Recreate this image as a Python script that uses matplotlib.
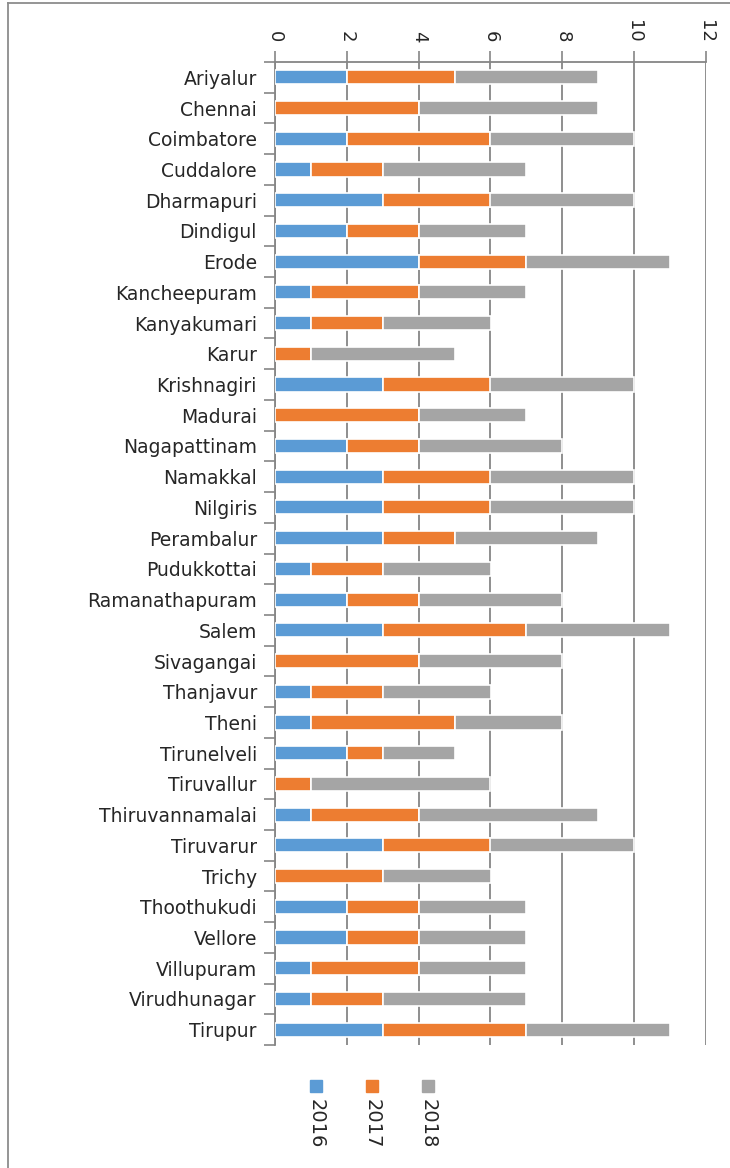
import matplotlib
matplotlib.use("Agg")
import matplotlib.pyplot as plt
from matplotlib.patches import Rectangle
from matplotlib.lines import Line2D
import numpy as np

# district-wise counts, stacked by year
districts = ["Ariyalur", "Chennai", "Coimbatore", "Cuddalore", "Dharmapuri",
             "Dindigul", "Erode", "Kancheepuram", "Kanyakumari", "Karur",
             "Krishnagiri", "Madurai", "Nagapattinam", "Namakkal", "Nilgiris",
             "Perambalur", "Pudukkottai", "Ramanathapuram", "Salem",
             "Sivagangai", "Thanjavur", "Theni", "Tirunelveli", "Tiruvallur",
             "Thiruvannamalai", "Tiruvarur", "Trichy", "Thoothukudi",
             "Vellore", "Villupuram", "Virudhunagar", "Tirupur"]
y2016 = [2, 0, 2, 1, 3, 2, 4, 1, 1, 0, 3, 0, 2, 3, 3, 3, 1, 2, 3, 0,
         1, 1, 2, 0, 1, 3, 0, 2, 2, 1, 1, 3]
y2017 = [3, 4, 4, 2, 3, 2, 3, 3, 2, 1, 3, 4, 2, 3, 3, 2, 2, 2, 4, 4,
         2, 4, 1, 1, 3, 3, 3, 2, 2, 3, 2, 4]
y2018 = [4, 5, 4, 4, 4, 3, 4, 3, 3, 4, 4, 3, 4, 4, 4, 4, 3, 4, 4, 4,
         3, 3, 2, 5, 5, 4, 3, 3, 3, 3, 4, 4]
years = ["2016", "2017", "2018"]
colors = ["#5B9BD5", "#ED7D31", "#A5A5A5"]

plt.rcParams['font.family'] = ['DejaVu Sans']

W, H = 730, 1168
fig = plt.figure(figsize=(W / 100, H / 100), dpi=100)
ax = fig.add_axes([275 / W, 1 - 1045 / H, (706 - 275) / W, (1045 - 62) / H])

pos = np.arange(len(districts))
left = np.zeros(len(districts))
for vals, col, lab in zip([y2016, y2017, y2018], colors, years):
    ax.barh(pos, vals, left=left, height=0.46, color=col,
            edgecolor="white", linewidth=1.2, label=lab, zorder=3)
    left = left + np.array(vals)

ax.set_xlim(0, 12)
ax.set_ylim(len(districts) - 0.5, -0.5)
ax.set_xticks(range(0, 13, 2))
ax.xaxis.tick_top()
ax.tick_params(axis="x", direction="out", length=8, width=1.2,
               color="#868686", pad=6, labelsize=13, labelrotation=-90,
               labelcolor="#262626")
ax.xaxis.grid(True, color="#868686", linewidth=1.3, zorder=0)

ax.set_yticks(pos)
ax.set_yticklabels(districts)
ax.set_yticks(np.arange(-0.5, len(districts)), minor=True)
ax.tick_params(axis="y", which="major", length=0, pad=13, labelsize=13.5,
               labelcolor="#262626")
ax.tick_params(axis="y", which="minor", length=8, width=1.2,
               color="#868686", direction="out")

for s in ["right", "bottom"]:
    ax.spines[s].set_visible(False)
for s in ["left", "top"]:
    ax.spines[s].set_color("#868686")
    ax.spines[s].set_linewidth(1.3)

# legend, drawn by hand so the labels can be rotated like the original
leg_x = [316, 372, 428]
for x, col, lab in zip(leg_x, colors, years):
    fig.patches.append(Rectangle(((x - 6) / W, 1 - 1092 / H), 12 / W, 12 / H,
                                 transform=fig.transFigure, color=col,
                                 figure=fig))
    fig.text(x / W, 1 - 1099 / H, lab, rotation=-90, ha="center", va="top",
             fontsize=14, color="#262626")

# outer chart border (left and top edges visible)
fig.add_artist(Line2D([8 / W, 8 / W], [0, 1 - 3 / H], color="#8c8c8c",
                      linewidth=1.3, transform=fig.transFigure))
fig.add_artist(Line2D([8 / W, 1], [1 - 3 / H, 1 - 3 / H], color="#8c8c8c",
                      linewidth=1.3, transform=fig.transFigure))

fig.savefig("out.png", dpi=100)
